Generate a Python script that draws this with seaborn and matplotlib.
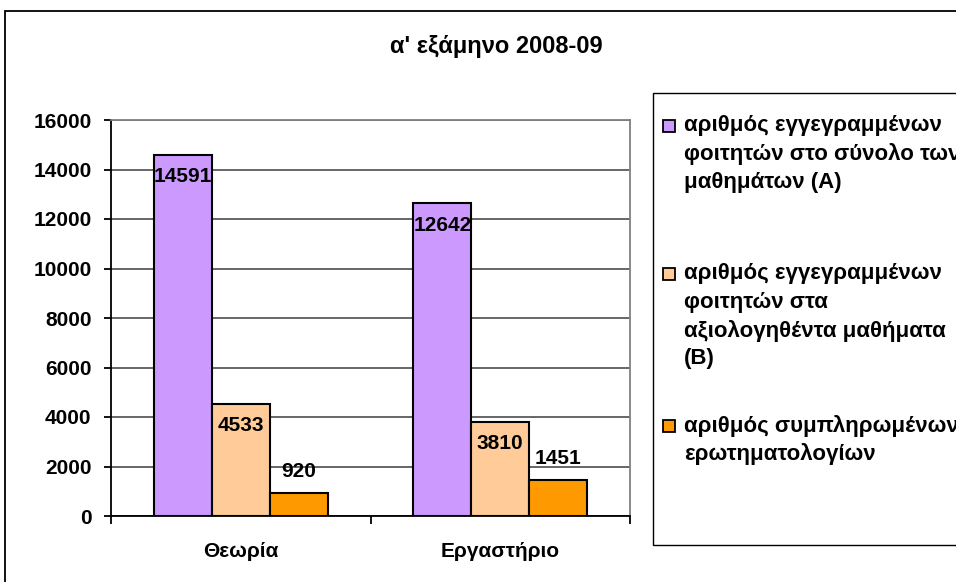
import matplotlib
matplotlib.use("Agg")
import matplotlib.pyplot as plt
from matplotlib.patches import Rectangle
import seaborn as sns
import pandas as pd

# data
categories = ["Θεωρία", "Εργαστήριο"]
series = ["A", "B", "C"]
vals_a = [14591, 12642]
vals_b = [4533, 3810]
vals_c = [920, 1451]
legend_lines = [
    ["αριθμός εγγεγραμμένων", "φοιτητών στο σύνολο των", "μαθημάτων (Α)"],
    ["αριθμός εγγεγραμμένων", "φοιτητών στα", "αξιολογηθέντα μαθήματα", "(Β)"],
    ["αριθμός συμπληρωμένων", "ερωτηματολογίων"],
]
title = "α' εξάμηνο 2008-09"
colors = ["#CC99FF", "#FFCC99", "#FF9900"]

df = pd.DataFrame({
    "cat": categories * 3,
    "series": [s for s in series for _ in categories],
    "val": vals_a + vals_b + vals_c,
})

sns.set_style("white")
plt.rcParams["font.family"] = ["Liberation Sans", "DejaVu Sans"]
plt.rcParams["font.weight"] = "bold"
for k in ["text.color", "xtick.color", "ytick.color", "axes.labelcolor"]:
    plt.rcParams[k] = "black"

W, H = 956, 582
fig = plt.figure(figsize=(W / 100, H / 100), dpi=100)
ax = fig.add_axes([111 / W, 1 - 516 / H, (630 - 111) / W, (516 - 120) / H])

sns.barplot(data=df, x="cat", y="val", hue="series", palette=colors,
            width=0.67, edgecolor="black", linewidth=1.5, saturation=1,
            legend=False, ax=ax, zorder=3)

ax.set_xlim(-0.5, 1.5)
ax.set_ylim(0, 16000)
ax.set_yticks(range(0, 16001, 2000))
ax.yaxis.grid(True, color="#5a5a5a", linewidth=1.3, zorder=0)
ax.set_xlabel("")
ax.set_ylabel("")

for s in ["left", "bottom"]:
    ax.spines[s].set_color("black")
    ax.spines[s].set_linewidth(1.3)
for s in ["top", "right"]:
    ax.spines[s].set_color("#808080")
    ax.spines[s].set_linewidth(1.3)

ax.tick_params(axis="y", direction="out", length=5, width=1.3, pad=9,
               labelsize=15, left=True)
ax.tick_params(axis="x", which="major", length=0, pad=19, labelsize=15)
ax.set_xticks([-0.5, 0.5, 1.5], minor=True)
ax.tick_params(axis="x", which="minor", direction="out", length=6,
               width=1.3, bottom=True)
for lab in ax.get_xticklabels() + ax.get_yticklabels():
    lab.set_fontweight("bold")

# data labels
for i, cont in enumerate(ax.containers):
    for bar in cont:
        h = bar.get_height()
        x = bar.get_x() + bar.get_width() / 2
        dy = -22 if i < 2 else 22
        ax.annotate(f"{int(h)}", (x, h), xytext=(0, dy),
                    textcoords="offset pixels", ha="center", va="center",
                    fontsize=15, fontweight="bold", zorder=5)

# outer chart border
fig.patches.append(Rectangle((5 / W, -0.1), 2, 1.1 - 11 / H,
                             transform=fig.transFigure, fill=False,
                             edgecolor="black", linewidth=1.3))

fig.text(496 / W, 1 - 47 / H, title, ha="center", va="center",
         fontsize=17, fontweight="bold")

# legend box
fig.patches.append(Rectangle((653 / W, 1 - 545 / H), 1, (545 - 93) / H,
                             transform=fig.transFigure, fill=False,
                             edgecolor="black", linewidth=1.0))
starts = [126, 274, 426]
step = 28.3
for lines, y0, c in zip(legend_lines, starts, colors):
    fig.patches.append(Rectangle((663 / W, 1 - (y0 + 6) / H), 12 / W, 12 / H,
                                 transform=fig.transFigure, facecolor=c,
                                 edgecolor="black", linewidth=1.3))
    for k, line in enumerate(lines):
        fig.text(684 / W, 1 - (y0 + k * step) / H, line, ha="left",
                 va="center", fontsize=16, fontweight="bold")

fig.savefig("out.png", dpi=100)
